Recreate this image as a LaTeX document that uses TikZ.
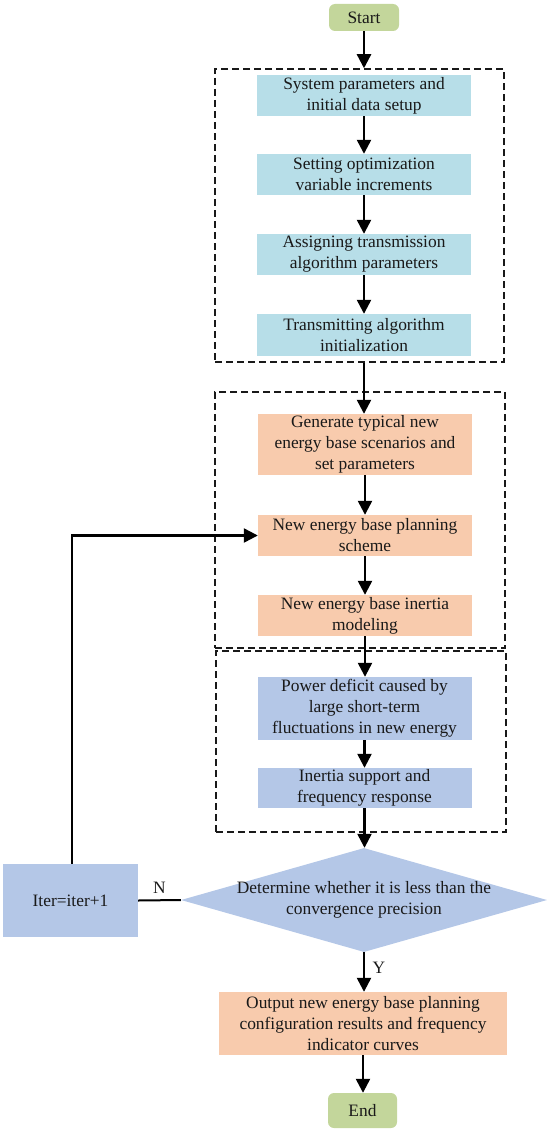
\documentclass[tikz,border=0pt]{standalone}
\usepackage{fontspec}
\setmainfont{Liberation Serif}
\usetikzlibrary{arrows.meta,shapes.geometric}
\definecolor{cblue}{HTML}{B7DEE8}
\definecolor{corange}{HTML}{F8CBAD}
\definecolor{cpblue}{HTML}{B4C7E7}
\definecolor{cgreen}{HTML}{C3D69B}
\begin{document}
\begin{tikzpicture}[x=1pt,y=-1pt,
  font=\fontsize{17.4}{21}\selectfont,
  proc/.style={rectangle, minimum width=214pt, inner sep=0pt, align=center, text=black!90},
  bluebox/.style={proc, fill=cblue},
  orbox/.style={proc, fill=corange},
  pbbox/.style={proc, fill=cpblue},
  term/.style={rectangle, rounded corners=6pt, fill=cgreen, inner sep=0pt, text=black!90},
  grp/.style={rectangle, draw=black!90, dash pattern=on 7pt off 4pt, line width=1.5pt, inner sep=0pt},
  arr/.style={-{Triangle[length=14pt,width=14pt]}, line width=2.4pt},
  plain/.style={line width=2pt}]
\useasboundingbox (0,0) rectangle (550,1132);

% group boxes
\node[grp, minimum width=289pt, minimum height=293pt] (g1) at (359.5,215.5) {};
\node[grp, minimum width=290pt, minimum height=256pt] (g2) at (360,520) {};
\node[grp, minimum width=290pt, minimum height=181pt] (g3) at (361,741.5) {};

% terminals
\node[term, minimum width=70pt, minimum height=27pt] (start) at (364,17.5) {Start};
\node[term, minimum width=69pt, minimum height=35pt] (end) at (362.5,1110.5) {End};

% stage 1
\node[bluebox, minimum height=41pt] (b1) at (364,95.5) {System parameters and\\initial data setup};
\node[bluebox, minimum height=41pt] (b2) at (364,174.5) {Setting optimization\\variable increments};
\node[bluebox, minimum height=41pt] (b3) at (364,254.5) {Assigning transmission\\algorithm parameters};
\node[bluebox, minimum height=42pt] (b4) at (364,335) {Transmitting algorithm\\initialization};

% stage 2
\node[orbox, minimum height=61pt] (b5) at (365,444.5) {Generate typical new\\energy base scenarios and\\set parameters};
\node[orbox, minimum height=41pt] (b6) at (365,535.5) {New energy base planning\\scheme};
\node[orbox, minimum height=41pt] (b7) at (365,615.5) {New energy base inertia\\modeling};

% stage 3
\node[pbbox, minimum height=63pt] (b8) at (364.5,708.5) {Power deficit caused by\\large short-term\\fluctuations in new energy};
\node[pbbox, minimum height=40pt] (b9) at (364.5,788) {Inertia support and\\frequency response};

% decision
\node[diamond, fill=cpblue, minimum width=366pt, minimum height=104pt, inner sep=0pt] (dia) at (364,900) {};
\node[align=center, inner sep=0pt, text=black!90] (dtext) at (364,900) {Determine whether it is less than the\\convergence precision};

\node[pbbox, minimum width=135pt, minimum height=73pt] (iter) at (70.5,900.5) {Iter=iter+1};

% output
\node[orbox, minimum width=288pt, minimum height=63pt] (out) at (363,1023.5) {Output new energy base planning\\configuration results and frequency\\indicator curves};

% connectors
\draw[arr] (start.south) -- (start.south |- g1.north);
\draw[arr] (b1) -- (b2);
\draw[arr] (b2) -- (b3);
\draw[arr] (b3) -- (b4);
\draw[arr] (b4.south |- g1.south) -- (b4.south |- b5.north);
\draw[arr] (b5) -- (b6);
\draw[arr] (b6) -- (b7);
\draw[arr] (b7.south) -- (b7.south |- b8.north);
\draw[arr] (b8) -- (b9);
\draw[arr] (b9.south) -- (b9.south |- dia.north);
\draw[arr] (dia.south) -- (dia.south |- out.north) node[pos=0.4, right=4pt, text=black!90] (ylab) {Y};
\draw[arr] (out.south) -- (out.south |- end.north);
\draw[plain] (iter.east) -- (dia.west) node[midway, above=2pt, text=black!90] (nlab) {N};
\draw[arr] ([xshift=1.5pt]iter.north) -- ([xshift=1.5pt]iter.north |- b6.west) -- (b6.west);
\end{tikzpicture}
\end{document}
